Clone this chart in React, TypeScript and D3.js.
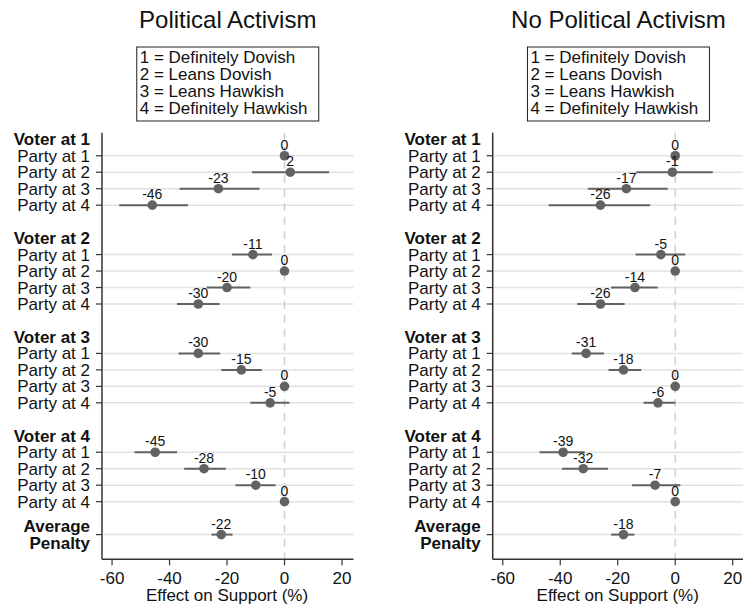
import React from "react";
import * as d3 from "d3";

// Row labels
const voterLabels = ["Voter at 1", "Voter at 2", "Voter at 3", "Voter at 4"];
const partyLabels = ["Party at 1", "Party at 2", "Party at 3", "Party at 4"];
const legendLines = [
  "1 = Definitely Dovish",
  "2 = Leans Dovish",
  "3 = Leans Hawkish",
  "4 = Definitely Hawkish",
];
const xTicks = [-60, -40, -20, 0, 20];

// Political Activism: estimates and 95% interval bounds, voter-major order
const activismEst = [0, 2, -23, -46, -11, 0, -20, -30, -30, -15, 0, -5, -45, -28, -10, 0];
const activismLo = [0, -11.3, -36.5, -57.5, -18.3, 0, -27, -37.4, -36.9, -22, 0, -11.9, -52.2, -34.9, -17.1, 0];
const activismHi = [0, 15.5, -8.7, -33.6, -4.4, 0, -11.9, -22.6, -22.4, -7.9, 0, 1.7, -37.4, -20.4, -3.1, 0];
const activismAvg = [-22, -25.4, -18.1];

// No Political Activism
const noActivismEst = [0, -1, -17, -26, -5, 0, -14, -26, -31, -18, 0, -6, -39, -32, -7, 0];
const noActivismLo = [0, -13.6, -30.4, -44, -13.8, 0, -22.3, -34.1, -36, -23.2, 0, -11, -47.2, -39.4, -15, 0];
const noActivismHi = [0, 13.1, -2.6, -8.7, 3.5, 0, -6.1, -17.6, -24.8, -11.8, 0, 0, -31.5, -23.4, 1.8, 0];
const noActivismAvg = [-18, -22.3, -14.2];

const FONT = "'Liberation Sans', Arial, Helvetica, sans-serif";
const MARK = "#626262";
const GRID = "#e2e2e2";
const AXIS = "#333";

type PanelProps = {
  title: string;
  est: number[];
  lo: number[];
  hi: number[];
  avg: number[];
  left: number;
  right: number;
};

const y = d3.scaleLinear().domain([-1.4, 24.5]).range([132.7, 559.3]);

function Panel({ title, est, lo, hi, avg, left, right }: PanelProps) {
  const x = d3.scaleLinear().domain([-63.5, 24]).range([left, right]);
  const cx = (left + right) / 2;
  const top = y(-1.4);
  const bottom = y(24.5);

  const rows = est.map((v, i) => {
    const g = Math.floor(i / 4);
    const p = i % 4;
    return { v, lo: lo[i], hi: hi[i], idx: g * 6 + p, label: partyLabels[p] };
  });
  const avgRow = { v: avg[0], lo: avg[1], hi: avg[2], idx: 23 };
  const marks = [...rows, avgRow];

  return (
    <g>
      <text x={cx} y={28} textAnchor="middle" fontSize={24} fontFamily={FONT} fill="#111">
        {title}
      </text>
      <rect x={cx - 91} y={47} width={182} height={74} fill="white" stroke="#222" strokeWidth={1} />
      {legendLines.map((t, i) => (
        <text key={t} x={cx - 88} y={62.5 + i * 17.3} fontSize={17} fontFamily={FONT} fill="#111">
          {t}
        </text>
      ))}

      {/* horizontal reference lines */}
      {marks.map((m) => (
        <line key={"g" + m.idx} x1={left} x2={right} y1={y(m.idx)} y2={y(m.idx)} stroke={GRID} strokeWidth={1.5} />
      ))}
      {/* zero line */}
      <line x1={x(0)} x2={x(0)} y1={top} y2={bottom} stroke="#d0d0d0" strokeWidth={1.5} strokeDasharray="8,6" />

      {/* intervals, points and value labels */}
      {marks.map((m) => (
        <g key={"m" + m.idx}>
          {m.lo !== m.hi && (
            <line x1={x(m.lo)} x2={x(m.hi)} y1={y(m.idx)} y2={y(m.idx)} stroke={MARK} strokeWidth={2} />
          )}
          <circle cx={x(m.v)} cy={y(m.idx)} r={4.8} fill={MARK} />
          <text x={x(m.v)} y={y(m.idx) - 6} textAnchor="middle" fontSize={14} fontFamily={FONT} fill="#111">
            {m.v}
          </text>
        </g>
      ))}

      {/* y axis */}
      <line x1={left} x2={left} y1={top} y2={bottom} stroke={AXIS} strokeWidth={1.5} />
      {rows.map((r) => (
        <g key={"yl" + r.idx}>
          <line x1={left - 6} x2={left} y1={y(r.idx)} y2={y(r.idx)} stroke={AXIS} strokeWidth={1.2} />
          <text x={left - 12} y={y(r.idx) + 6} textAnchor="end" fontSize={17} fontFamily={FONT} fill="#111">
            {r.label}
          </text>
        </g>
      ))}
      {voterLabels.map((v, g) => (
        <text key={v} x={left - 12} y={y(g * 6 - 1) + 6} textAnchor="end" fontSize={17} fontWeight="bold" fontFamily={FONT} fill="#111">
          {v}
        </text>
      ))}
      <line x1={left - 6} x2={left} y1={y(23)} y2={y(23)} stroke={AXIS} strokeWidth={1.2} />
      <text x={left - 12} y={y(23) - 3} textAnchor="end" fontSize={17} fontWeight="bold" fontFamily={FONT} fill="#111">
        Average
      </text>
      <text x={left - 12} y={y(23) + 14} textAnchor="end" fontSize={17} fontWeight="bold" fontFamily={FONT} fill="#111">
        Penalty
      </text>

      {/* x axis */}
      <line x1={left} x2={right} y1={bottom} y2={bottom} stroke={AXIS} strokeWidth={1.5} />
      {xTicks.map((t) => (
        <g key={"xt" + t}>
          <line x1={x(t)} x2={x(t)} y1={bottom} y2={bottom + 6} stroke={AXIS} strokeWidth={1.2} />
          <text x={x(t)} y={584} textAnchor="middle" fontSize={17} fontFamily={FONT} fill="#111">
            {t}
          </text>
        </g>
      ))}
      <text x={x(-20)} y={601} textAnchor="middle" fontSize={17} fontFamily={FONT} fill="#111">
        Effect on Support (%)
      </text>
    </g>
  );
}

export default function App() {
  return (
    <svg
      width={743}
      height={607}
      style={{ position: "absolute", left: 0, top: 0, background: "white" }}
    >
      <rect width={743} height={607} fill="white" />
      <Panel
        title="Political Activism"
        est={activismEst}
        lo={activismLo}
        hi={activismHi}
        avg={activismAvg}
        left={102}
        right={353.5}
      />
      <Panel
        title="No Political Activism"
        est={noActivismEst}
        lo={noActivismLo}
        hi={noActivismHi}
        avg={noActivismAvg}
        left={492.7}
        right={744.2}
      />
    </svg>
  );
}
